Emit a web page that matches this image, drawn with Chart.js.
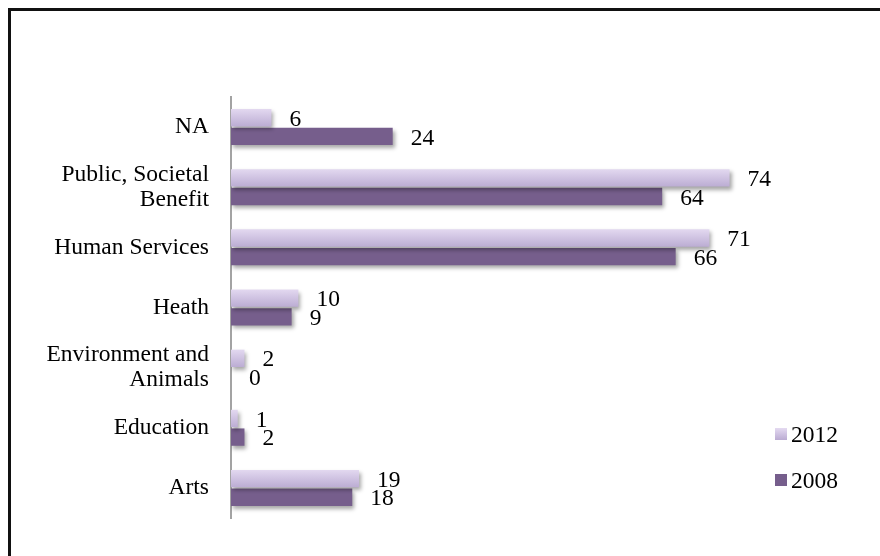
<!DOCTYPE html>
<html>
<head>
<meta charset="utf-8">
<script src="https://cdn.jsdelivr.net/npm/chart.js"></script>
<style>
  html, body { margin: 0; padding: 0; background: #fff; overflow: hidden; }
  #wrap { position: relative; width: 880px; height: 556px; }
  #frame {
    position: absolute; left: 8px; top: 8px; width: 900px; height: 600px;
    border-left: 3px solid #111; border-top: 3px solid #111;
    pointer-events: none;
  }
</style>
</head>
<body>
<div id="wrap">
  <canvas id="chart" width="880" height="556"></canvas>
  <div id="frame"></div>
</div>
<script>
// categories, top to bottom
const categories = [
  'NA',
  ['Public, Societal', 'Benefit'],
  'Human Services',
  'Heath',
  ['Environment and', 'Animals'],
  'Education',
  'Arts'
];
const seriesNames = ['2012', '2008'];
const values2012 = [6, 74, 71, 10, 2, 1, 19];
const values2008 = [24, 64, 66, 9, 0, 2, 18];

const FONT = '"Liberation Serif", "Times New Roman", serif';
const FONT_SIZE = 23.5;
const DARK = '#765e8c';
const CAT_PCT = 0.62;

// vertical lavender gradient for each 2012 bar, built from the category scale
function lightGradient(context) {
  const chart = context.chart;
  const y = chart.scales.y;
  if (!y || context.dataIndex === undefined) return '#cbbde0';
  const center = y.getPixelForValue(context.dataIndex);
  const band = Math.abs(y.getPixelForValue(1) - y.getPixelForValue(0));
  if (!isFinite(center) || !isFinite(band)) return '#cbbde0';
  const top = center - band * CAT_PCT / 2;
  const g = chart.ctx.createLinearGradient(0, top, 0, center);
  g.addColorStop(0, '#e4daf1');
  g.addColorStop(1, '#baabd2');
  return g;
}

// soft drop shadow under the bars
const barShadow = {
  id: 'barShadow',
  beforeDatasetsDraw(chart) {
    const ctx = chart.ctx;
    ctx.save();
    ctx.shadowColor = 'rgba(0,0,0,0.35)';
    ctx.shadowBlur = 4;
    ctx.shadowOffsetX = 2;
    ctx.shadowOffsetY = 3;
  },
  afterDatasetsDraw(chart) {
    chart.ctx.restore();
  }
};

// value labels just past the end of each bar
const valueLabels = {
  id: 'valueLabels',
  afterDatasetsDraw(chart) {
    const ctx = chart.ctx;
    ctx.save();
    ctx.font = FONT_SIZE + 'px ' + FONT;
    ctx.fillStyle = '#000';
    ctx.textAlign = 'left';
    ctx.textBaseline = 'middle';
    chart.data.datasets.forEach((ds, di) => {
      const meta = chart.getDatasetMeta(di);
      meta.data.forEach((bar, i) => {
        ctx.fillText(String(ds.data[i]), bar.x + 18, bar.y + 2);
      });
    });
    ctx.restore();
  }
};

// legend stacked in the lower right
const sideLegend = {
  id: 'sideLegend',
  afterDraw(chart) {
    const ctx = chart.ctx;
    const x = 775;
    const rows = [436, 482];
    ctx.save();
    ctx.font = FONT_SIZE + 'px ' + FONT;
    ctx.textBaseline = 'middle';
    ctx.textAlign = 'left';
    seriesNames.forEach((name, i) => {
      const cy = rows[i];
      if (i === 0) {
        const g = ctx.createLinearGradient(0, cy - 8, 0, cy + 4);
        g.addColorStop(0, '#e4daf1');
        g.addColorStop(1, '#baabd2');
        ctx.fillStyle = g;
      } else {
        ctx.fillStyle = DARK;
      }
      ctx.fillRect(x, cy - 8, 12, 12);
      ctx.fillStyle = '#000';
      ctx.fillText(name, x + 16, cy);
    });
    ctx.restore();
  }
};

new Chart(document.getElementById('chart'), {
  type: 'bar',
  data: {
    labels: categories,
    datasets: [
      { label: seriesNames[0], data: values2012, backgroundColor: lightGradient },
      { label: seriesNames[1], data: values2008, backgroundColor: DARK }
    ]
  },
  options: {
    indexAxis: 'y',
    responsive: false,
    animation: false,
    categoryPercentage: CAT_PCT,
    barPercentage: 0.93,
    layout: { padding: { left: 0, top: 97, right: 110, bottom: 38 } },
    plugins: {
      legend: { display: false },
      tooltip: { enabled: false }
    },
    scales: {
      x: { display: false, min: 0, max: 80 },
      y: {
        afterFit(scale) { scale.width = 231; },
        grid: { display: false, drawTicks: false },
        border: { display: true, color: '#a3a3a3', width: 2 },
        ticks: {
          padding: 22,
          color: '#000',
          font: { family: FONT, size: FONT_SIZE, lineHeight: 1.06 }
        }
      }
    }
  },
  plugins: [barShadow, valueLabels, sideLegend]
});
</script>
</body>
</html>
